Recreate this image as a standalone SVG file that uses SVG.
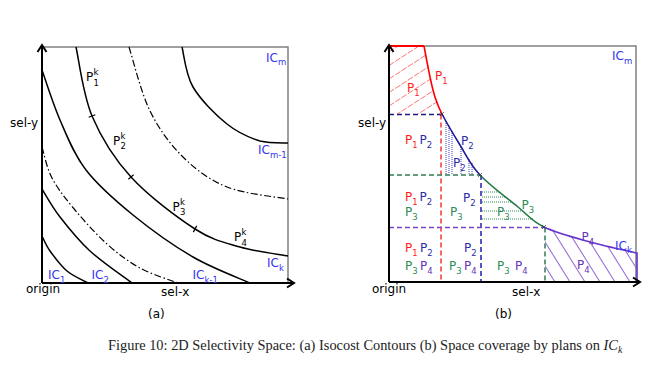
<svg xmlns="http://www.w3.org/2000/svg" width="653" height="371" viewBox="0 0 653 371">
<style>
text{font-family:"DejaVu Sans",Verdana,sans-serif;font-size:12px}
.sub{font-size:8.5px}
.ic{fill:#3535f0}
.lab{fill:#000}
.axis{stroke:#000;stroke-width:2;fill:none}
.box{stroke:#808080;stroke-width:1.5;fill:none}
.cur{stroke:#000;stroke-width:1.5;fill:none}
.dd{stroke:#000;stroke-width:1.2;fill:none;stroke-dasharray:7 2.5 1.5 2.5}
.tick{stroke:#000;stroke-width:1.2}
.dash{stroke-width:1.5;fill:none;stroke-dasharray:5 3}
.r{fill:#ff1a1a}.b{fill:#2b2ba8}.g{fill:#2e8b57}.p{fill:#6633bb}
.cap{font-family:"Liberation Serif","Times New Roman",serif;font-size:14.4px;fill:#222}
</style>
<defs>
<clipPath id="redclip"><path d="M389,46 L424,46 C425,51.2 428.2,68.5 430,77 C431.8,85.5 433,90.8 435,97 C437,103.2 437.8,106 442,114 L389,114 Z"/></clipPath>
<clipPath id="purclip"><path d="M545,227 C556,232.8 574.5,237.7 590,242 C605.5,246.3 629.2,251.2 637,253 L637,282 L545,282 Z"/></clipPath>
</defs>
<rect width="653" height="371" fill="#fff"/>

<!-- Panel (a) -->
<g id="panel-a">
<g id="a-frame">
<path class="box" d="M42,47 H288 V283"/>
<path class="axis" d="M42,283 V45 M37.5,52 L42,45 L46.5,52"/>
<path class="axis" d="M42,283 H294 M287,278.5 L294,283 L287,287.5"/>
</g>
<g id="a-curves">
<path id="ic1" class="cur" d="M42,236 C43.3,238.5 45.8,245.2 50,251 C54.2,256.8 60.7,265.7 67,271 C73.3,276.3 84.5,281 88,283"/>
<path id="ic2" class="cur" d="M42,189 C45,193.7 52,206.7 60,217 C68,227.3 78,240 90,251 C102,262 125,277.7 132,283"/>
<path id="icdd1" class="dd" d="M42,147 C43.7,152.2 46.5,167.5 52,178 C57.5,188.5 65.8,199 75,210 C84.2,221 96.2,234.3 107,244 C117.8,253.7 128.2,261.5 140,268 C151.8,274.5 171.7,280.5 178,283"/>
<path id="ickm1" class="cur" d="M42,70 C45,78.3 52.7,103.3 60,120 C67.3,136.7 73.8,154.2 86,170 C98.2,185.8 115.2,200.5 133,215 C150.8,229.5 173.5,245.7 193,257 C212.5,268.3 240.5,278.7 250,283"/>
<path id="ick" class="cur" d="M76,47 C78.7,58.5 82.8,94.3 92,116 C101.2,137.7 113.8,158.2 131,177 C148.2,195.8 176.8,217.3 195,229 C213.2,240.7 224.5,242.5 240,247 C255.5,251.5 280,254.5 288,256"/>
<path id="icdd2" class="dd" d="M129,47 C132.5,57.7 141,92.7 150,111 C159,129.3 170.2,144.3 183,157 C195.8,169.7 209.5,180 227,187 C244.5,194 277.8,197 288,199"/>
<path id="icm" class="cur" d="M182,47 C183.8,53.7 185.5,74.2 193,87 C200.5,99.8 215.8,115 227,124 C238.2,133 249.8,137.8 260,141 C270.2,143.5 283.3,142.7 288,143"/>
<path class="tick" d="M88.7,117.3 L95.3,114.7 M128.4,179.3 L133.6,174.7 M193.3,232.1 L196.7,225.9"/>
</g>
<g id="a-labels">
<text x="86" y="81">P</text><text class="sub" x="93.5" y="85.5">1</text><text class="sub" x="93.5" y="75">k</text>
<text x="113" y="144.5">P</text><text class="sub" x="120.5" y="149">2</text><text class="sub" x="120.5" y="138.5">k</text>
<text x="172.5" y="210.5">P</text><text class="sub" x="180" y="215">3</text><text class="sub" x="180" y="204.5">k</text>
<text x="234" y="241">P</text><text class="sub" x="241.5" y="245.5">4</text><text class="sub" x="241.5" y="235">k</text>
<text class="ic" x="266" y="61.5">IC<tspan class="sub" dy="3.5">m</tspan></text>
<text class="ic" x="258" y="154">IC<tspan class="sub" dy="3.5">m-1</tspan></text>
<text class="ic" x="267" y="267">IC<tspan class="sub" dy="3.5">k</tspan></text>
<text class="ic" x="48" y="279">IC<tspan class="sub" dy="3.5">1</tspan></text>
<text class="ic" x="91.5" y="279">IC<tspan class="sub" dy="3.5">2</tspan></text>
<text class="ic" x="192.5" y="279">IC<tspan class="sub" dy="3.5">k-1</tspan></text>
<text x="10" y="127">sel-y</text>
<text x="26" y="293" font-size="10">origin</text>
<text x="161" y="296">sel-x</text>
<text x="148" y="318" font-size="11.5">(a)</text>
</g>
</g>

<!-- Panel (b) -->
<g id="panel-b">
<g id="b-frame">
<path class="box" d="M389,46 H636 V282"/>
</g>
<g id="b-fills">
<g clip-path="url(#redclip)" stroke="#ff5050" stroke-width="0.8" stroke-dasharray="6 1.5">
<path d="M389,52 l60,-39 M389,65.5 l60,-39 M389,79 l60,-39 M389,92.5 l60,-39 M389,106 l60,-39 M389,119.5 l60,-39 M389,133 l60,-39 M389,146.5 l60,-39"/>
</g>
<g clip-path="url(#purclip)" stroke="#9a72d8" stroke-width="1.1">
<path d="M555,282 l-40,-64 M570,282 l-40,-64 M585,282 l-40,-64 M600,282 l-40,-64 M615,282 l-40,-64 M630,282 l-40,-64 M645,282 l-40,-64"/>
</g>
<g stroke="#3a3ac0" stroke-width="1" stroke-dasharray="1 1">
<path d="M446,121 V174 M449,126 V174 M452,131 V174 M461,147 V174 M469,159 V174 M472,163 V174"/>
</g>
<g stroke="#2e8b57" stroke-width="1" stroke-dasharray="1 1">
<path d="M482,192 H499 M482,197 H505 M482,202 H511 M482,211 H524 M482,219 H533"/>
</g>
</g>
<g id="b-connectors">
<path class="dash" stroke="#1a1a80" d="M389,114.5 H442"/>
<path class="dash" stroke="#ff3333" d="M441,114.5 V282"/>
<path class="dash" stroke="#2e7d52" d="M389,175 H480"/>
<path class="dash" stroke="#2020b0" d="M481,175 V282"/>
<path class="dash" stroke="#7744cc" d="M389,227.5 H544"/>
<path class="dash" stroke="#2e7d52" d="M545,227.5 V282"/>
<path d="M389,46 H424" stroke="#ff0000" stroke-width="2" fill="none"/>
<path d="M424,46 C425,51.2 428.2,68.5 430,77 C431.8,85.5 433,90.8 435,97 C437,103.2 437.8,106 442,114" stroke="#ff0000" stroke-width="1.6" fill="none"/>
<path d="M442,114 C446.2,122 453.7,134.8 460,145 C466.3,155.2 470.3,164.7 480,175" stroke="#1a1a99" stroke-width="1.6" fill="none"/>
<path d="M480,175 C489.7,185.3 507.3,198.3 518,207 C528.7,215.7 532,221.2 544,227" stroke="#1f7a45" stroke-width="1.6" fill="none"/>
<path d="M544,227 C556,232.8 574.5,237.7 590,242 C605.5,246.3 629.2,251.2 637,253 L637,282" stroke="#6633cc" stroke-width="1.6" fill="none"/>
<path d="M440,112 l4,4 M444,112 l-4,4 M478,173 l4,4 M482,173 l-4,4 M542,225 l4,4 M546,225 l-4,4" stroke="#333" stroke-width="0.7"/>
<path class="axis" d="M389,282 V45 M384.5,52 L389,45 L393.5,52"/>
<path class="axis" d="M389,282 H640 M633,277.5 L640,282 L633,286.5"/>
</g>
<g id="b-labels">
<text class="ic" x="612" y="60">IC<tspan class="sub" dy="3.5">m</tspan></text>
<text class="ic" x="615" y="249.5">IC<tspan class="sub" dy="3.5">k</tspan></text>
<text class="r" x="435" y="79.5">P<tspan class="sub" dy="4">1</tspan></text>
<text class="r" x="407" y="91.5">P<tspan class="sub" dy="4">1</tspan></text>
<text class="r" x="405" y="144">P<tspan class="sub" dy="4">1</tspan></text>
<text class="b" x="419.5" y="144">P<tspan class="sub" dy="4">2</tspan></text>
<text class="b" x="461" y="144.5">P<tspan class="sub" dy="4">2</tspan></text>
<text class="b" x="453" y="166.5">P<tspan class="sub" dy="4">2</tspan></text>
<text class="r" x="405" y="200.5">P<tspan class="sub" dy="4">1</tspan></text>
<text class="b" x="419.5" y="200.5">P<tspan class="sub" dy="4">2</tspan></text>
<text class="g" x="405" y="215.5">P<tspan class="sub" dy="4">3</tspan></text>
<text class="g" x="450" y="215.5">P<tspan class="sub" dy="4">3</tspan></text>
<text class="b" x="463" y="201.5">P<tspan class="sub" dy="4">2</tspan></text>
<text class="g" x="497" y="216">P<tspan class="sub" dy="4">3</tspan></text>
<text class="g" x="521.5" y="208.5">P<tspan class="sub" dy="4">3</tspan></text>
<text class="r" x="405" y="252">P<tspan class="sub" dy="4">1</tspan></text>
<text class="b" x="420" y="252">P<tspan class="sub" dy="4">2</tspan></text>
<text class="g" x="405" y="270">P<tspan class="sub" dy="4">3</tspan></text>
<text class="p" x="420" y="270">P<tspan class="sub" dy="4">4</tspan></text>
<text class="b" x="464" y="252">P<tspan class="sub" dy="4">2</tspan></text>
<text class="g" x="449" y="269.5">P<tspan class="sub" dy="4">3</tspan></text>
<text class="p" x="464" y="269.5">P<tspan class="sub" dy="4">4</tspan></text>
<text class="g" x="497" y="269.5">P<tspan class="sub" dy="4">3</tspan></text>
<text class="p" x="515" y="269.5">P<tspan class="sub" dy="4">4</tspan></text>
<text class="p" x="581.5" y="241">P<tspan class="sub" dy="4">4</tspan></text>
<text class="p" x="577" y="268.5">P<tspan class="sub" dy="4">4</tspan></text>
<text x="358" y="127">sel-y</text>
<text x="372" y="293" font-size="10">origin</text>
<text x="512" y="296">sel-x</text>
<text x="495" y="318" font-size="11.5">(b)</text>
</g>
</g>

<text class="cap" x="108" y="350">Figure 10: 2D Selectivity Space: (a) Isocost Contours (b) Space coverage by plans on <tspan font-style="italic">IC</tspan><tspan font-style="italic" font-size="10" dy="3">k</tspan></text>
</svg>
